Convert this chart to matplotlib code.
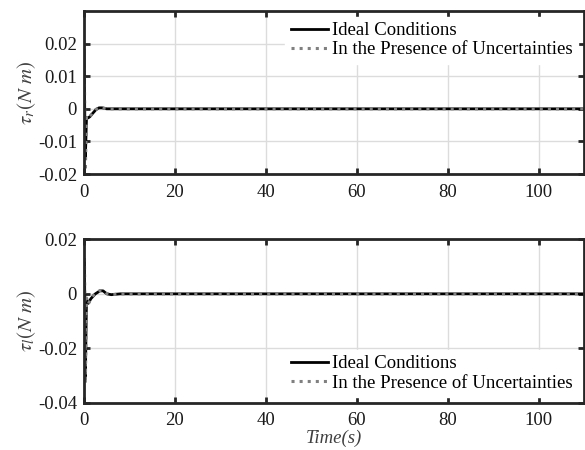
# Control torques: ideal vs. with uncertainties
import numpy as np
import matplotlib
matplotlib.use('Agg')
import matplotlib.pyplot as plt

plt.rcParams['font.family'] = ['Liberation Serif', 'DejaVu Serif']
plt.rcParams['mathtext.fontset'] = 'stix'
plt.rcParams['font.size'] = 13.5

# time samples (s) and torque values (N m)
t_r = [0, 0.1, 0.3, 0.55, 0.9, 1.3, 1.9, 2.6, 3.3, 4.0, 5.0, 6.0, 8.0, 110]
tau_r_ideal = [0.018, 0.006, -0.015, -0.0028, -0.0028, -0.0024, -0.0014, -0.0003, 0.0003,
               0.0003, 0.0, 0.0, 0.0, 0.0]
tau_r_unc = [0.020, 0.008, -0.019, -0.0022, -0.0026, -0.0023, -0.0013, -0.0002, 0.0004,
             0.0003, 0.0, 0.0, 0.0, 0.0]

t_l = [0, 0.1, 0.3, 0.55, 0.95, 1.5, 2.5, 3.5, 4.2, 5.0, 6.0, 8.0, 110]
tau_l_ideal = [0.0, 0.012, -0.031, -0.002, -0.0035, -0.0018, 0.0, 0.0011, 0.0011, 0.0,
               -0.0003, 0.0, 0.0]
tau_l_unc = [0.0, 0.014, -0.033, -0.0015, -0.0038, -0.0016, 0.0002, 0.0012, 0.0012, 0.0001,
             -0.0003, 0.0, 0.0]

fig = plt.figure(figsize=(5.85, 4.5), dpi=100)
ax1 = fig.add_axes([0.1436, 0.6133, 0.8547, 0.3622])
ax2 = fig.add_axes([0.1436, 0.105, 0.8547, 0.363])

def style(ax, ylim, yticks, ylabs):
    ax.set_xlim(0, 110)
    ax.set_ylim(*ylim)
    ax.set_xticks([0, 20, 40, 60, 80, 100])
    ax.set_yticks(yticks)
    ax.set_yticklabels(ylabs)
    ax.grid(True, color='#dcdcdc', linewidth=1.0)
    ax.set_axisbelow(True)
    for s in ax.spines.values():
        s.set_linewidth(2.0)
        s.set_color('#262626')
    ax.tick_params(axis='y', pad=5)
    ax.tick_params(axis='x', pad=7)
    ax.tick_params(direction='in', length=4, width=2.0, top=True, right=True,
                   color='#262626', labelcolor='#1a1a1a')

leg_kw = dict(frameon=True, edgecolor='white', framealpha=1, fancybox=False,
              handlelength=2.0, handletextpad=0.2, labelspacing=0.1,
              borderaxespad=0.3, borderpad=0.3)

ax1.plot(t_r, tau_r_ideal, color='black', linewidth=2, label='Ideal Conditions')
ax1.plot(t_r, tau_r_unc, color='#808080', linewidth=2.2, linestyle=':',
         label='In the Presence of Uncertainties')
style(ax1, (-0.02, 0.03), [-0.02, -0.01, 0, 0.01, 0.02],
      ['-0.02', '-0.01', '0', '0.01', '0.02'])
ax1.set_ylabel(r'$\tau_r(N\ m)$', color='#404040', fontsize=15, labelpad=0)
ax1.legend(loc='upper right', **leg_kw)

ax2.plot(t_l, tau_l_ideal, color='black', linewidth=2, label='Ideal Conditions')
ax2.plot(t_l, tau_l_unc, color='#808080', linewidth=2.2, linestyle=':',
         label='In the Presence of Uncertainties')
style(ax2, (-0.04, 0.02), [-0.04, -0.02, 0, 0.02],
      ['-0.04', '-0.02', '0', '0.02'])
ax2.set_ylabel(r'$\tau_l(N\ m)$', color='#404040', fontsize=15, labelpad=0)
ax2.set_xlabel('Time(s)', style='italic', color='#404040', labelpad=0)
ax2.legend(loc='lower right', **leg_kw)

fig.savefig('out.png', dpi=100)
